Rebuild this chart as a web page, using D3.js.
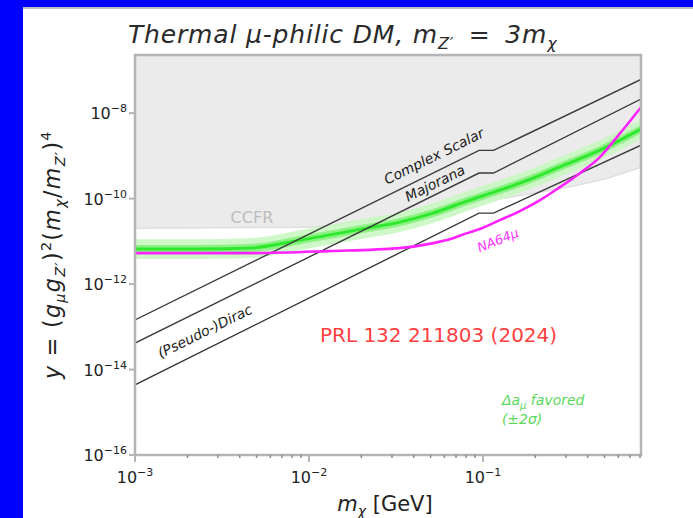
<!DOCTYPE html>
<html><head><meta charset="utf-8">
<script src="https://cdn.jsdelivr.net/npm/d3@7"></script>
<style>html,body{margin:0;padding:0;background:#0000ff;overflow:hidden} svg{display:block}</style>
</head><body>
<svg id="c" width="693" height="518"></svg>
<script>
// ---------------- data ----------------
const massDomain = [1e-3, 0.81];
const yDomain = [1e-16, 2.3e-7];
const xTickVals = [1e-3, 1e-2, 1e-1];
const xTickExp = ["\u22123", "\u22122", "\u22121"];
const yTickVals = [1e-16, 1e-14, 1e-12, 1e-10, 1e-8];
const yTickExp = ["\u221216", "\u221214", "\u221212", "\u221210", "\u22128"];

// thermal target lines
const lineMass = [0.001, 0.095, 0.115, 0.81];
const complexScalar = [1.45e-13, 1.35e-9, 1.35e-9, 6.17e-8];
const majorana = [4.17e-14, 3.98e-10, 3.98e-10, 2.14e-8];
const pseudoDirac = [4.37e-15, 4.57e-11, 4.57e-11, 1.78e-9];

// NA64mu limit (magenta)
const na64Mass = [0.001, 0.0046, 0.013, 0.033, 0.052, 0.065, 0.081, 0.096, 0.125, 0.163, 0.213, 0.277, 0.361, 0.47, 0.589, 0.81];
const na64Y = [5.31e-12, 5.31e-12, 5.92e-12, 6.95e-12, 9.10e-12, 1.13e-11, 1.56e-11, 1.94e-11, 3.14e-11, 5.11e-11, 9.23e-11, 1.86e-10, 3.94e-10, 9.35e-10, 2.75e-9, 1.38e-8];

// g-2 favored band (green) centre and band factors
const g2Mass = [0.001, 0.00237, 0.00458, 0.00887, 0.0215, 0.0333, 0.0516, 0.0809, 0.125, 0.194, 0.266, 0.47, 0.81];
const g2Y = [6.59e-12, 6.59e-12, 6.95e-12, 1.07e-11, 2.04e-11, 2.82e-11, 4.58e-11, 8.75e-11, 1.58e-10, 3.02e-10, 5.16e-10, 1.36e-9, 4.23e-9];
const g2Outer = 1.7;
const g2Inner = 1.25;

// CCFR excluded region (lower boundary)
const ccfrMass = [0.001, 0.0101, 0.0196, 0.0435, 0.0962, 0.213, 0.47, 0.81];
const ccfrY = [2.04e-11, 2.15e-11, 2.98e-11, 4.83e-11, 8.28e-11, 1.42e-10, 2.71e-10, 5.46e-10];

// ---------------- layout ----------------
const W = 693, H = 518;
const P = {l: 135, r: 641, t: 55, b: 455};
const FONT = "DejaVu Sans";

const svg = d3.select("#c");
svg.append("rect").attr("x", 23).attr("y", 7).attr("width", W - 23).attr("height", H - 7).attr("fill", "#bdbdbd");
svg.append("rect").attr("x", 23).attr("y", 9).attr("width", W - 23).attr("height", H - 9).attr("fill", "#ffffff");

const x = d3.scaleLog().domain(massDomain).range([P.l, P.r]);
const y = d3.scaleLog().domain(yDomain).range([P.b, P.t]);

svg.append("clipPath").attr("id", "clip").append("rect")
  .attr("x", P.l).attr("y", P.t).attr("width", P.r - P.l).attr("height", P.b - P.t);
const g = svg.append("g").attr("clip-path", "url(#clip)");

const zip = (a, b) => a.map((v, i) => [v, b[i]]);

// CCFR grey region
const ccfr = zip(ccfrMass, ccfrY);
g.append("path").datum(ccfr)
  .attr("d", d3.area().x(d => x(d[0])).y0(d => y(d[1])).y1(y(yDomain[1]) - 5).curve(d3.curveMonotoneX))
  .attr("fill", "#ebebeb");
g.append("path").datum(ccfr)
  .attr("d", d3.line().x(d => x(d[0])).y(d => y(d[1])).curve(d3.curveMonotoneX))
  .attr("fill", "none").attr("stroke", "#dedede").attr("stroke-width", 1.5);

// green band
const g2 = zip(g2Mass, g2Y);
const band = f => d3.area().x(d => x(d[0])).y0(d => y(d[1] / f)).y1(d => y(d[1] * f)).curve(d3.curveMonotoneX);
g.append("path").datum(g2).attr("d", band(g2Outer)).attr("fill", "#c9f7c2").attr("opacity", 0.9);
g.append("path").datum(g2).attr("d", band(g2Inner)).attr("fill", "#86f07c").attr("opacity", 0.9);
g.append("path").datum(g2)
  .attr("d", d3.line().x(d => x(d[0])).y(d => y(d[1])).curve(d3.curveMonotoneX))
  .attr("fill", "none").attr("stroke", "#2ee82e").attr("stroke-width", 3);

// thermal lines
[complexScalar, majorana, pseudoDirac].forEach(arr => {
  g.append("path").datum(zip(lineMass, arr))
    .attr("d", d3.line().x(d => x(d[0])).y(d => y(d[1])))
    .attr("fill", "none").attr("stroke", "#3a3a3a").attr("stroke-width", 1.4);
});

// NA64mu
g.append("path").datum(zip(na64Mass, na64Y))
  .attr("d", d3.line().x(d => x(d[0])).y(d => y(d[1])).curve(d3.curveMonotoneX))
  .attr("fill", "none").attr("stroke", "#ff22ff").attr("stroke-width", 2.6);

// rotated labels
function rotLabel(txt, m, v, ang, opts) {
  const px = x(m), py = y(v);
  g.append("text").attr("transform", `translate(${px},${py}) rotate(${ang})`)
    .attr("text-anchor", "middle").attr("dominant-baseline", "central")
    .attr("font-family", FONT).attr("font-style", opts.italic ? "italic" : "normal")
    .attr("font-size", opts.size).attr("fill", opts.color).text(txt);
}
const lineAng = -Math.atan(2 * (y(1e-12) - y(1e-11)) / (x(1e-2) - x(1e-3))) * 180 / Math.PI;
rotLabel("Complex Scalar", 0.0522, 9.86e-10, lineAng, {size: 14, color: "#1a1a1a", italic: true});
rotLabel("Majorana", 0.053, 2.31e-10, lineAng, {size: 14, color: "#1a1a1a", italic: true});
rotLabel("(Pseudo-)Dirac", 0.00252, 7.96e-14, lineAng, {size: 14, color: "#1a1a1a", italic: true});
rotLabel("NA64\u03bc", 0.122, 1.07e-11, -22, {size: 13, color: "#ff33ff", italic: true});
rotLabel("CCFR", 0.0047, 3.69e-11, 0, {size: 16, color: "#bdbdbd", italic: false});

// PRL annotation
g.append("text").attr("x", x(0.01156)).attr("y", y(4.4e-14))
  .attr("font-family", FONT).attr("font-size", 20).attr("fill", "#ff4040").text("PRL 132 211803 (2024)");

// g-2 text
const gt = g.append("text").attr("x", x(0.1285)).attr("y", y(1.48e-15))
  .attr("font-family", FONT).attr("font-style", "italic").attr("font-size", 14).attr("fill", "#5ad85a");
gt.append("tspan").text("\u0394a");
gt.append("tspan").attr("font-size", 10).attr("dy", 4).text("\u03bc");
gt.append("tspan").attr("dy", -4).text(" favored");
g.append("text").attr("x", x(0.1285)).attr("y", y(1.48e-15) + 19)
  .attr("font-family", FONT).attr("font-style", "italic").attr("font-size", 14).attr("fill", "#5ad85a")
  .text("(\u00b12\u03c3)");

// ---------------- axes ----------------
const spine = "#b4b4b4";
svg.append("rect").attr("x", P.l).attr("y", P.t).attr("width", P.r - P.l).attr("height", P.b - P.t)
  .attr("fill", "none").attr("stroke", spine).attr("stroke-width", 2.5);

// x ticks
const xMinor = [];
for (let e = -3; e <= -1; e++) for (let k = 2; k <= 9; k++) { const v = k * Math.pow(10, e); if (v <= massDomain[1]) xMinor.push(v); }
svg.append("g").selectAll("line").data(xMinor).join("line")
  .attr("x1", d => x(d)).attr("x2", d => x(d)).attr("y1", P.b).attr("y2", P.b + 3)
  .attr("stroke", "#8c8c8c").attr("stroke-width", 1.5);
svg.append("g").selectAll("line").data(xTickVals).join("line")
  .attr("x1", d => x(d)).attr("x2", d => x(d)).attr("y1", P.b).attr("y2", P.b + 7)
  .attr("stroke", spine).attr("stroke-width", 2);
xTickVals.forEach((v, i) => {
  const t = svg.append("text").attr("x", x(v)).attr("y", 483).attr("text-anchor", "middle")
    .attr("font-family", FONT).attr("font-size", 16).attr("fill", "#222");
  t.append("tspan").text("10");
  t.append("tspan").attr("font-size", 11).attr("dy", -7).text(xTickExp[i]);
});

// y ticks
svg.append("g").selectAll("line").data(yTickVals).join("line")
  .attr("x1", P.l - 6).attr("x2", P.l).attr("y1", d => y(d)).attr("y2", d => y(d))
  .attr("stroke", spine).attr("stroke-width", 2);
yTickVals.forEach((v, i) => {
  const t = svg.append("text").attr("x", 127).attr("y", y(v) + 6).attr("text-anchor", "end")
    .attr("font-family", FONT).attr("font-size", 16).attr("fill", "#222");
  t.append("tspan").text("10");
  t.append("tspan").attr("font-size", 11).attr("dy", -7).text(yTickExp[i]);
});

// x label
const xl = svg.append("text").attr("x", 385).attr("y", 511).attr("text-anchor", "middle")
  .attr("font-family", FONT).attr("font-size", 21).attr("fill", "#222");
xl.append("tspan").attr("font-style", "italic").text("m");
xl.append("tspan").attr("font-style", "italic").attr("font-size", 14).attr("dy", 5).text("\u03c7");
xl.append("tspan").attr("dy", -5).text(" [GeV]");

// y label (centred by measured bbox)
const yl = svg.append("text").attr("font-family", FONT).attr("font-size", 20).attr("fill", "#222")
  .attr("letter-spacing", 1.2);
yl.append("tspan").attr("font-style", "italic").text("y");
yl.append("tspan").text(" = (");
yl.append("tspan").attr("font-style", "italic").text("g");
yl.append("tspan").attr("font-style", "italic").attr("font-size", 13).attr("dy", 5).text("\u03bc");
yl.append("tspan").attr("font-style", "italic").attr("dy", -5).text("g");
yl.append("tspan").attr("font-style", "italic").attr("font-size", 13).attr("dy", 5).text("Z\u2032");
yl.append("tspan").attr("dy", -5).text(")");
yl.append("tspan").attr("font-size", 13).attr("dy", -8).text("2");
yl.append("tspan").attr("dy", 8).text("(");
yl.append("tspan").attr("font-style", "italic").text("m");
yl.append("tspan").attr("font-style", "italic").attr("font-size", 13).attr("dy", 5).text("\u03c7");
yl.append("tspan").attr("dy", -5).text("/");
yl.append("tspan").attr("font-style", "italic").text("m");
yl.append("tspan").attr("font-style", "italic").attr("font-size", 13).attr("dy", 5).text("Z\u2032");
yl.append("tspan").attr("dy", -5).text(")");
yl.append("tspan").attr("font-size", 13).attr("dy", -8).text("4");
{
  const bb = yl.node().getBBox();
  const cx = bb.x + bb.width / 2, cy = bb.y + bb.height / 2;
  const sc = 250 / bb.width;
  yl.attr("transform", `translate(53,255) rotate(-90) scale(${sc}) translate(${-cx},${-cy})`);
}

// title
const tt = svg.append("text").attr("x", 128).attr("y", 43)
  .attr("font-family", FONT).attr("font-style", "italic").attr("font-size", 25).attr("fill", "#2a2a2a");
tt.append("tspan").text("Thermal \u03bc-philic DM, m");
tt.append("tspan").attr("font-size", 16).attr("dy", 6).text("Z\u2032");
tt.append("tspan").attr("dy", -6).text(" \u2009= \u20093m");
tt.append("tspan").attr("font-size", 16).attr("dy", 6).text("\u03c7");
{
  const bb = tt.node().getBBox();
  const n = tt.text().length;
  const extra = (430 - bb.width) / n;
  tt.attr("letter-spacing", Math.max(0, extra));
}
</script>
</body></html>
